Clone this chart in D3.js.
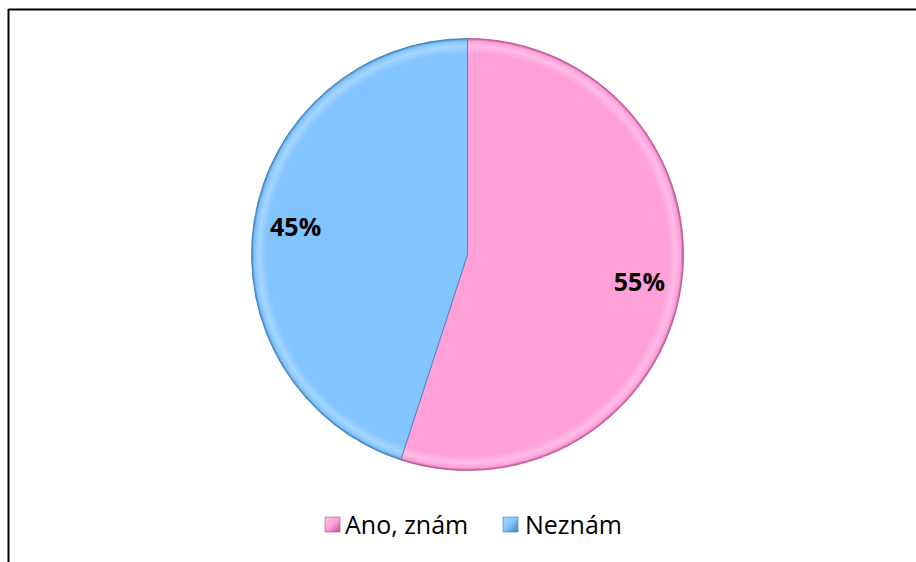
<!DOCTYPE html>
<html>
<head>
<meta charset="utf-8">
<script src="https://cdn.jsdelivr.net/npm/d3@7"></script>
<style>
  html, body { margin: 0; padding: 0; background: #fff; }
  svg { display: block; }
</style>
</head>
<body>
<svg id="chart" width="916" height="562"></svg>
<script>
const categories = ["Ano, znám", "Neznám"];
const values = [55, 45];
const labels = ["55%", "45%"];
const colors = ["#FFA0D9", "#82C4FF"];
const darkColors = ["#B7528F", "#3F7FB5"];
const lightColors = ["#FFBCE5", "#A6D6FF"];

const svg = d3.select("#chart");
const W = 916, H = 562;
const cx = 467.5, cy = 254.5, R = 216;

// frame (top and left edges)
svg.append("line").attr("x1", 8.5).attr("y1", 9.5).attr("x2", W).attr("y2", 9.5)
  .attr("stroke", "#000").attr("stroke-width", 2);
svg.append("line").attr("x1", 8.5).attr("y1", 9).attr("x2", 8.5).attr("y2", H)
  .attr("stroke", "#000").attr("stroke-width", 2);

const defs = svg.append("defs");
categories.forEach((c, i) => {
  const g = defs.append("radialGradient").attr("id", "grad" + i)
    .attr("gradientUnits", "userSpaceOnUse")
    .attr("cx", 0).attr("cy", 0).attr("r", R);
  g.append("stop").attr("offset", "0%").attr("stop-color", colors[i]);
  g.append("stop").attr("offset", "93%").attr("stop-color", colors[i]);
  g.append("stop").attr("offset", "96.5%").attr("stop-color", lightColors[i]);
  g.append("stop").attr("offset", "98.8%").attr("stop-color", colors[i]);
  g.append("stop").attr("offset", "100%").attr("stop-color", darkColors[i]);
  const lg = defs.append("linearGradient").attr("id", "leg" + i)
    .attr("x1", 0).attr("y1", 0).attr("x2", 1).attr("y2", 1);
  lg.append("stop").attr("offset", "0%").attr("stop-color", lightColors[i]);
  lg.append("stop").attr("offset", "50%").attr("stop-color", colors[i]);
  lg.append("stop").attr("offset", "100%").attr("stop-color", darkColors[i]);
});

const pie = d3.pie().sort(null).value(d => d)(values);
const arc = d3.arc().innerRadius(0).outerRadius(R);
const labelArc = d3.arc().innerRadius(174).outerRadius(174);

const g = svg.append("g").attr("transform", `translate(${cx},${cy})`);
g.selectAll("path.slice").data(pie).join("path")
  .attr("class", "slice")
  .attr("d", arc)
  .attr("fill", (d, i) => `url(#grad${i})`)
  .attr("stroke", (d, i) => darkColors[i])
  .attr("stroke-width", 0.8)
  .attr("stroke-linejoin", "round");

g.selectAll("text.lbl").data(pie).join("text")
  .attr("class", "lbl")
  .attr("transform", d => { const [x, y] = labelArc.centroid(d); return `translate(${x},${y})`; })
  .attr("text-anchor", "middle")
  .attr("dy", "0.36em")
  .attr("font-family", "'Open Sans', sans-serif")
  .attr("font-weight", "bold")
  .attr("font-size", 25)
  .attr("fill", "#000")
  .text((d, i) => labels[i]);

// legend
const legend = svg.append("g");
const items = [{x: 325, tx: 345}, {x: 503, tx: 525}];
categories.forEach((c, i) => {
  legend.append("rect").attr("x", items[i].x).attr("y", 517).attr("width", 15).attr("height", 15)
    .attr("fill", `url(#leg${i})`).attr("stroke", darkColors[i]).attr("stroke-width", 0.6);
  legend.append("text").attr("x", items[i].tx).attr("y", 533.5)
    .attr("font-family", "'Open Sans', sans-serif")
    .attr("font-size", 25).attr("fill", "#000").text(c);
});
</script>
</body>
</html>
